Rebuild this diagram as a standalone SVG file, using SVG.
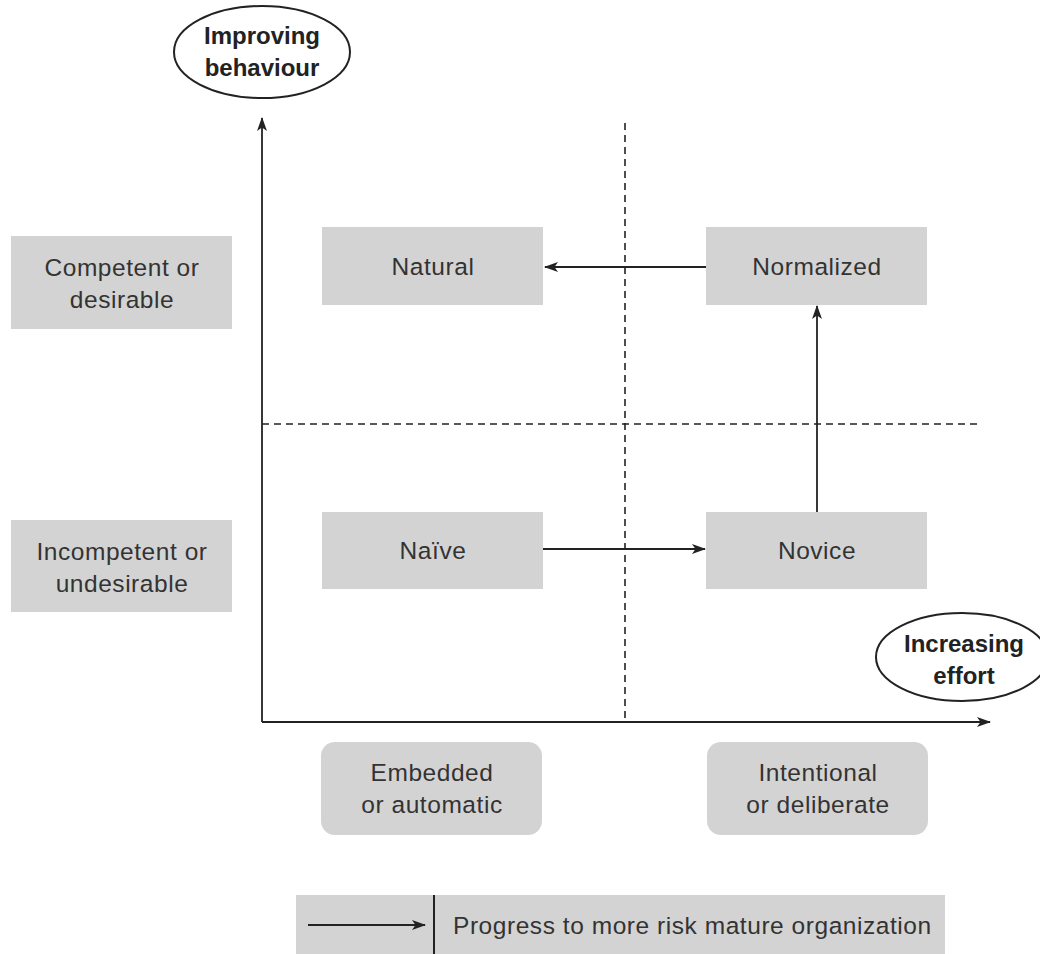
<svg xmlns="http://www.w3.org/2000/svg" width="1040" height="954" viewBox="0 0 1040 954">
<style>
.box{fill:#d3d3d3}
.t{font-family:"Liberation Sans",Arial,sans-serif;font-size:24.5px;letter-spacing:0.55px;fill:#333;text-anchor:middle}
.b{font-family:"Liberation Sans",Arial,sans-serif;font-size:24px;font-weight:bold;fill:#222;text-anchor:middle}
.ax{stroke:#222;stroke-width:1.8;fill:none}
.dash{stroke:#222;stroke-width:1.6;stroke-dasharray:7,5;fill:none}
.ell{fill:#fff;stroke:#222;stroke-width:2}
</style>
<defs>
<marker id="ah" viewBox="0 0 14 10" refX="13" refY="5" markerWidth="14" markerHeight="10" markerUnits="userSpaceOnUse" orient="auto">
<path d="M0,0 L14,5 L0,10 L3.5,5 Z" fill="#222"/>
</marker>
</defs>
<rect width="1040" height="954" fill="#fff"/>
<g id="axes">
<line class="ax" x1="262" y1="722" x2="262" y2="118" marker-end="url(#ah)"/>
<line class="ax" x1="262" y1="722" x2="990" y2="722" marker-end="url(#ah)"/>
<line class="dash" x1="625" y1="123" x2="625" y2="722"/>
<line class="dash" x1="262" y1="424" x2="980" y2="424"/>
</g>
<g id="label-improving">
<ellipse class="ell" cx="262" cy="52" rx="88" ry="46"/>
<text class="b" x="262" y="44">Improving</text>
<text class="b" x="262" y="76">behaviour</text>
</g>
<g id="label-effort">
<ellipse class="ell" cx="962" cy="657" rx="86" ry="44"/>
<text class="b" x="964" y="652">Increasing</text>
<text class="b" x="964" y="684">effort</text>
</g>
<g id="competent">
<rect class="box" x="11" y="236" width="221" height="93"/>
<text class="t" x="122" y="276">Competent or</text>
<text class="t" x="122" y="308">desirable</text>
</g>
<g id="incompetent">
<rect class="box" x="11" y="520" width="221" height="92"/>
<text class="t" x="122" y="560">Incompetent or</text>
<text class="t" x="122" y="592">undesirable</text>
</g>
<g id="natural">
<rect class="box" x="322" y="227" width="221" height="78"/>
<text class="t" x="433" y="275">Natural</text>
</g>
<g id="normalized">
<rect class="box" x="706" y="227" width="221" height="78"/>
<text class="t" x="817" y="275">Normalized</text>
</g>
<g id="naive">
<rect class="box" x="322" y="512" width="221" height="77"/>
<text class="t" x="433" y="559">Naïve</text>
</g>
<g id="novice">
<rect class="box" x="706" y="512" width="221" height="77"/>
<text class="t" x="817" y="559">Novice</text>
</g>
<g id="embedded">
<rect class="box" x="321" y="742" width="221" height="93" rx="14"/>
<text class="t" x="432" y="781">Embedded</text>
<text class="t" x="432" y="813">or automatic</text>
</g>
<g id="intentional">
<rect class="box" x="707" y="742" width="221" height="93" rx="14"/>
<text class="t" x="818" y="781">Intentional</text>
<text class="t" x="818" y="813">or deliberate</text>
</g>
<g id="connectors">
<line class="ax" x1="706" y1="267" x2="545" y2="267" marker-end="url(#ah)"/>
<line class="ax" x1="543" y1="549" x2="705" y2="549" marker-end="url(#ah)"/>
<line class="ax" x1="817" y1="512" x2="817" y2="306" marker-end="url(#ah)"/>
</g>
<g id="legend">
<rect class="box" x="296" y="895" width="649" height="59"/>
<line x1="434" y1="895" x2="434" y2="954" stroke="#222" stroke-width="2"/>
<line class="ax" x1="308" y1="925" x2="425" y2="925" marker-end="url(#ah)"/>
<text class="t" x="453" y="934" style="text-anchor:start">Progress to more risk mature organization</text>
</g>
</svg>
